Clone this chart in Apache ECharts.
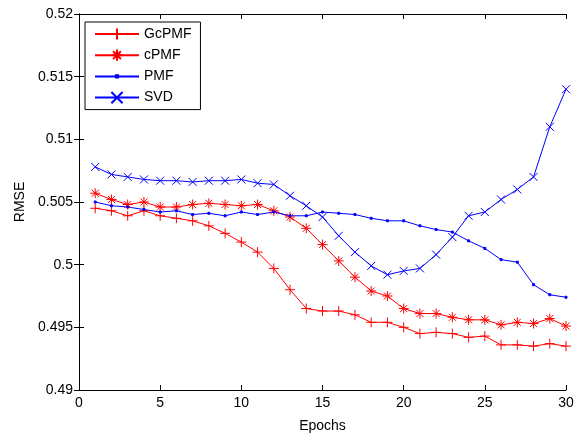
<!DOCTYPE html>
<html>
<head>
<meta charset="utf-8">
<script src="https://cdn.jsdelivr.net/npm/echarts@6/dist/echarts.min.js"></script>
<style>html,body{margin:0;padding:0;background:#fff;}#c{width:581px;height:438px;}</style>
</head>
<body>
<div id="c"></div>
<script>
const epochs = [1,2,3,4,5,6,7,8,9,10,11,12,13,14,15,16,17,18,19,20,21,22,23,24,25,26,27,28,29,30];
const gcpmf = [0.5045,0.5043,0.5039,0.5043,0.5039,0.5037,0.5035,0.5031,0.5025,0.5018,0.5010,0.4997,0.4980,0.4965,0.4963,0.4963,0.4960,0.4954,0.4954,0.4950,0.4945,0.4946,0.4945,0.4942,0.4943,0.4936,0.4936,0.4935,0.4937,0.4935];
const cpmf = [0.5057,0.5052,0.5048,0.5050,0.5046,0.5046,0.5048,0.5049,0.5048,0.5047,0.5048,0.5043,0.5038,0.5029,0.5016,0.5003,0.4990,0.4979,0.4975,0.4965,0.4961,0.4961,0.4958,0.4956,0.4956,0.4952,0.4954,0.4953,0.4957,0.4951];
const pmf = [0.5050,0.5047,0.5046,0.5044,0.5042,0.5043,0.5040,0.5041,0.5039,0.5042,0.5040,0.5042,0.5039,0.5039,0.5042,0.5041,0.5040,0.5037,0.5035,0.5035,0.5031,0.5028,0.5026,0.5019,0.5013,0.5004,0.5002,0.4984,0.4976,0.4974];
const svd = [0.5078,0.5072,0.5070,0.5068,0.5067,0.5067,0.5066,0.5067,0.5067,0.5068,0.5065,0.5064,0.5055,0.5047,0.5038,0.5023,0.5010,0.4999,0.4992,0.4995,0.4997,0.5008,0.5022,0.5039,0.5042,0.5052,0.5060,0.5070,0.5110,0.5140];
const seriesNames = ['GcPMF','cPMF','PMF','SVD'];
const xLabel = 'Epochs';
const yLabel = 'RMSE';

const FONT = 'Liberation Sans, Arial, Helvetica, sans-serif';
const RED = '#ff0000', BLUE = '#0000ff';
const SYM_PLUS = 'path://M0,5L10,5M5,0L5,10';
const SYM_AST = 'path://M0,5L10,5M5,0L5,10M1.5,1.5L8.5,8.5M8.5,1.5L1.5,8.5';
const SYM_X = 'path://M0,0L10,10M10,0L0,10';
const SYM_DOT = 'path://M0,0M10,10M4,4L6,4L6,6L4,6Z';

function pairs(arr){ return epochs.map((e,i)=>[e, arr[i]]); }
function mk(name, arr, color, symbol, size){
  return {
    name, type:'line', data: pairs(arr), symbol, symbolSize: size,
    showAllSymbol: true,
    lineStyle:{color, width:1},
    itemStyle:{color, borderColor: color, borderWidth: 1},
    emphasis:{disabled:true}, animation:false
  };
}
const chart = echarts.init(document.getElementById('c'), null, {renderer:'canvas'});
const tickCommon = {inside:true, length:5, lineStyle:{color:'#000'}};
chart.setOption({
  animation:false,
  backgroundColor:'#fff',
  textStyle:{fontFamily:FONT},
  grid:{left:79, right:15, top:14, bottom:41},
  legend:{
    orient:'vertical', left:85, top:22,
    data: seriesNames,
    backgroundColor:'#fff', borderColor:'#000', borderWidth:1,
    padding:[5,9,5,9], itemWidth:44, itemHeight:14, itemGap:7.2,
    textStyle:{fontFamily:FONT, fontSize:14, color:'#000'}
  },
  xAxis:[{
    type:'value', min:0, max:30, interval:5, position:'bottom',
    name:xLabel, nameLocation:'middle', nameGap:29,
    nameTextStyle:{fontFamily:FONT, fontSize:14, color:'#000'},
    axisLine:{show:true, lineStyle:{color:'#000', width:1}},
    axisTick:tickCommon,
    axisLabel:{fontFamily:FONT, fontSize:14, color:'#000', margin:6},
    splitLine:{show:false}
  },{
    type:'value', min:0, max:30, interval:5, position:'top',
    axisLine:{show:true, lineStyle:{color:'#000', width:1}},
    axisTick:tickCommon, axisLabel:{show:false}, splitLine:{show:false}
  }],
  yAxis:[{
    type:'value', min:0.49, max:0.52, interval:0.005, position:'left',
    name:yLabel, nameLocation:'middle', nameGap:47, nameRotate:90,
    nameTextStyle:{fontFamily:FONT, fontSize:14, color:'#000'},
    axisLine:{show:true, lineStyle:{color:'#000', width:1}},
    axisTick:tickCommon,
    axisLabel:{fontFamily:FONT, fontSize:14, color:'#000', margin:6,
      formatter: v => String(parseFloat(v.toFixed(3)))},
    splitLine:{show:false}
  },{
    type:'value', min:0.49, max:0.52, interval:0.005, position:'right',
    axisLine:{show:true, lineStyle:{color:'#000', width:1}},
    axisTick:tickCommon, axisLabel:{show:false}, splitLine:{show:false}
  }],
  series:[
    mk(seriesNames[0], gcpmf, RED, SYM_PLUS, 10),
    mk(seriesNames[1], cpmf, RED, SYM_AST, 10),
    mk(seriesNames[2], pmf, BLUE, SYM_DOT, 10),
    mk(seriesNames[3], svd, BLUE, SYM_X, 8)
  ]
});
</script>
</body>
</html>
